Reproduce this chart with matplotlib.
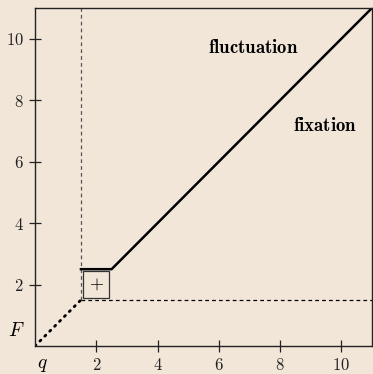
import matplotlib
matplotlib.use("Agg")
import matplotlib.pyplot as plt

plt.rcParams["mathtext.fontset"] = "cm"
plt.rcParams["font.family"] = "serif"
plt.rcParams["font.serif"] = ["cmr10", "DejaVu Serif"]
plt.rcParams["axes.formatter.use_mathtext"] = True

bg = "#f2e6d9"

# phase boundary (solid), threshold guides and the low-q dotted branch
boundary_q = [1.5, 2.5, 11.0]
boundary_F = [2.5, 2.5, 11.0]
dotted_q = [0.0, 1.5]
dotted_F = [0.0, 1.5]
guide_h_q = [1.5, 11.0]
guide_h_F = [1.5, 1.5]
guide_v_q = [1.5, 1.5]
guide_v_F = [1.5, 11.0]
marker_q, marker_F = 2.0, 2.0

ticks = [2, 4, 6, 8, 10]
region_labels = ["fluctuation", "fixation"]
region_q = [7.13, 9.48]
region_F = [9.7, 7.15]

fig = plt.figure(figsize=(3.73, 3.74), dpi=100, facecolor=bg)
ax = fig.add_axes([35 / 373, 28 / 374, 337 / 373, 338 / 374], facecolor=bg)

ax.plot(guide_h_q, guide_h_F, color="black", lw=0.9, ls=(0, (3, 2.5)))
ax.plot(guide_v_q, guide_v_F, color="#555555", lw=0.9, ls=(0, (3, 2.5)))
ax.plot(dotted_q, dotted_F, color="black", lw=2.0, ls=(0, (0.5, 2.0)),
        solid_capstyle="round", dash_capstyle="round")
ax.plot(boundary_q, boundary_F, color="black", lw=1.8, solid_joinstyle="miter")

ax.text(marker_q, marker_F, "$+$", ha="center", va="center", fontsize=13,
        bbox=dict(boxstyle="square,pad=0.3", fc="none", ec="#333333", lw=0.9))

for lab, xq, yf in zip(region_labels, region_q, region_F):
    ax.text(xq, yf, r"$\mathbf{%s}$" % lab, ha="center", va="center", fontsize=13.5)

ax.set_xlim(0, 11)
ax.set_ylim(0, 11)
ax.set_xticks(ticks)
ax.set_yticks(ticks)
ax.set_xticklabels([f"${t}$" for t in ticks])
ax.set_yticklabels([f"${t}$" for t in ticks])
ax.tick_params(direction="inout", length=8, width=0.9, labelsize=12, pad=4,
               colors="#222222")
for s in ax.spines.values():
    s.set_linewidth(1.0)
    s.set_color("#222222")

ax.text(-0.6, 0.5, "$F$", ha="center", va="center", fontsize=14)
ax.text(0.25, -0.62, "$q$", ha="center", va="center", fontsize=14)

fig.savefig("out.png", dpi=100, facecolor=bg)
